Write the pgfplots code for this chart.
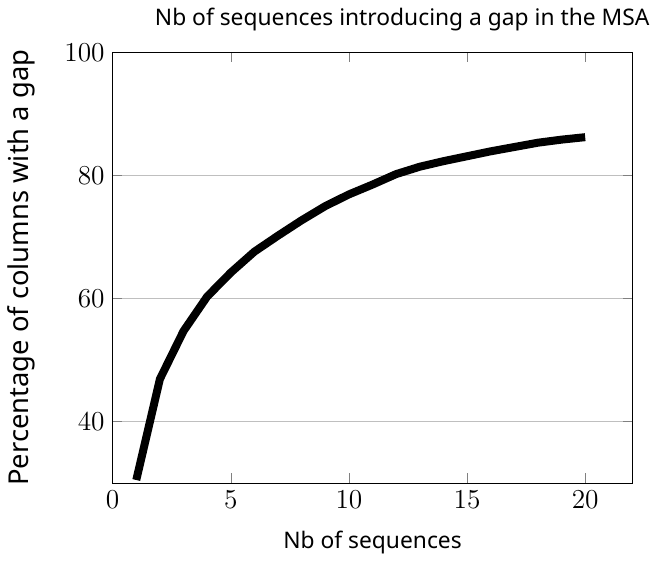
\documentclass[border=0pt]{standalone}
\usepackage{pgfplots}
\pgfplotsset{compat=1.18}
\usepackage{fontspec}
\setmainfont{Noto Sans}

\begin{document}
\begin{tikzpicture}
    \begin{axis}[
        scale only axis,
        width=228pt,
        height=189pt,
        xmin=0, xmax=22,
        ymin=30, ymax=100,
        xtick={0,5,10,15,20},
        ytick={40,60,80,100},
        ymajorgrids,
        tick label style={font=\large},
        title={Nb of sequences introducing a gap in the MSA},
        title style={xshift=13pt},
        xlabel={Nb of sequences},
        xlabel style={yshift=-3pt},
        ylabel={Percentage of columns with a gap},
        ylabel style={font=\large, yshift=6pt},
    ]
    \addplot[black, line width=3.5pt] coordinates {
        (1,30.5) (2,46.9) (3,54.7) (4,60.3) (5,64.2)
        (6,67.6) (7,70.2) (8,72.7) (9,75.0) (10,76.9)
        (11,78.5) (12,80.2) (13,81.4) (14,82.3) (15,83.1)
        (16,83.9) (17,84.6) (18,85.3) (19,85.8) (20,86.2)
    };
    \end{axis}
\end{tikzpicture}
\end{document}
